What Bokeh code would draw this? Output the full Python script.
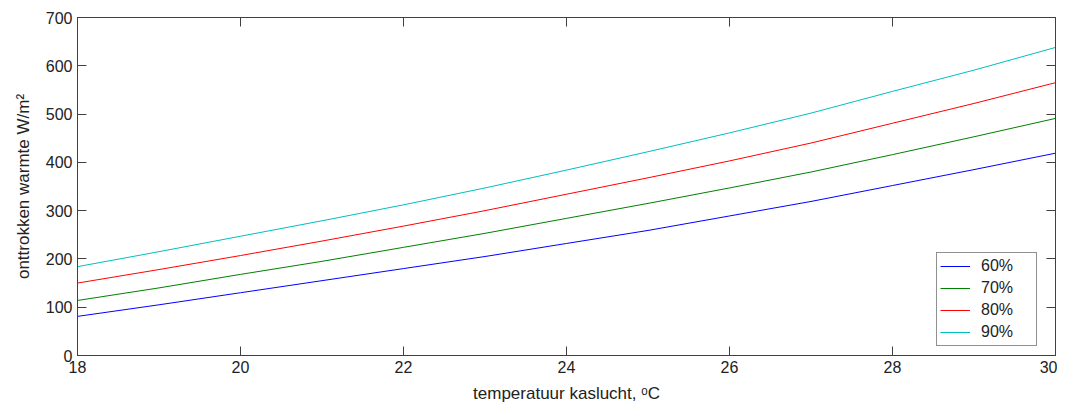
from bokeh.plotting import figure
from bokeh.models import LinearAxis, Range1d, FixedTicker, Legend, LegendItem
from bokeh.embed import file_html
from bokeh.resources import INLINE

temps = [18, 19, 20, 21, 22, 23, 24, 25, 26, 27, 28, 29, 30]
rh60 = [81, 105, 130, 155, 180, 205, 232, 259, 289, 319, 352, 385, 419]
rh70 = [114, 140, 168, 195, 224, 253, 284, 315, 347, 380, 416, 453, 491]
rh80 = [150, 178, 207, 237, 268, 300, 334, 368, 403, 440, 481, 522, 565]
rh90 = [184, 215, 247, 279, 312, 347, 384, 422, 461, 502, 547, 591, 638]
series_labels = ["60%", "70%", "80%", "90%"]
colors = ["#0000ff", "#008000", "#ff0000", "#00bfbf"]
x_ticks = [18, 20, 22, 24, 26, 28, 30]
y_ticks = [0, 100, 200, 300, 400, 500, 600, 700]

FONT = "Liberation Sans"
AX = "#404040"
TXT = "#222222"

p = figure(width=1057, height=406, output_backend="svg", toolbar_location=None,
           x_range=Range1d(18, 30), y_range=Range1d(0, 700),
           min_border_left=77, min_border_right=2, min_border_top=17, min_border_bottom=51)
p.background_fill_color = "white"
p.border_fill_color = "white"
p.outline_line_color = AX
p.outline_line_width = 1
p.grid.visible = False

renderers = []
for ys, c in zip([rh60, rh70, rh80, rh90], colors):
    r = p.line(temps, ys, line_color=c, line_width=1)
    renderers.append(r)

for ax in [p.xaxis[0], p.yaxis[0]]:
    ax.axis_line_color = AX
    ax.major_tick_line_color = AX
    ax.major_tick_in = 9
    ax.major_tick_out = 0
    ax.minor_tick_line_color = None
    ax.major_label_text_font = FONT
    ax.major_label_text_font_size = "16px"
    ax.major_label_text_color = TXT
    ax.axis_label_text_font = FONT
    ax.axis_label_text_font_size = "17px"
    ax.axis_label_text_font_style = "normal"
    ax.axis_label_text_color = TXT
    ax.major_label_standoff = 5

p.xaxis[0].ticker = FixedTicker(ticks=x_ticks)
p.yaxis[0].ticker = FixedTicker(ticks=y_ticks)
p.xaxis[0].axis_label = "temperatuur kaslucht, \u1d52C"
p.yaxis[0].axis_label = "onttrokken warmte W/m\u00b2"
p.xaxis[0].axis_label_standoff = 8
p.yaxis[0].axis_label_standoff = 10

top = LinearAxis(ticker=FixedTicker(ticks=x_ticks), major_label_text_font_size="0px",
                 major_tick_in=9, major_tick_out=0, minor_tick_line_color=None,
                 axis_line_color=AX, major_tick_line_color=AX, major_label_standoff=0)
right = LinearAxis(ticker=FixedTicker(ticks=y_ticks), major_label_text_font_size="0px",
                   major_tick_in=9, major_tick_out=0, minor_tick_line_color=None,
                   axis_line_color=AX, major_tick_line_color=AX, major_label_standoff=0)
top.major_label_overrides = {t: "" for t in x_ticks}
right.major_label_overrides = {t: "" for t in y_ticks}
p.add_layout(top, "above")
p.add_layout(right, "right")

legend = Legend(items=[LegendItem(label=l, renderers=[r]) for l, r in zip(series_labels, renderers)],
                location=(859, 9))
legend.border_line_color = TXT
legend.border_line_width = 1
legend.background_fill_color = "white"
legend.background_fill_alpha = 1
legend.label_text_font = FONT
legend.label_text_font_size = "16px"
legend.label_text_color = TXT
legend.glyph_width = 30
legend.glyph_height = 20
legend.label_height = 20
legend.label_width = 52
legend.label_standoff = 11
legend.spacing = 2
legend.padding = 3
legend.margin = 0
p.add_layout(legend, "center")

open("out.html", "w").write(file_html(p, INLINE))
